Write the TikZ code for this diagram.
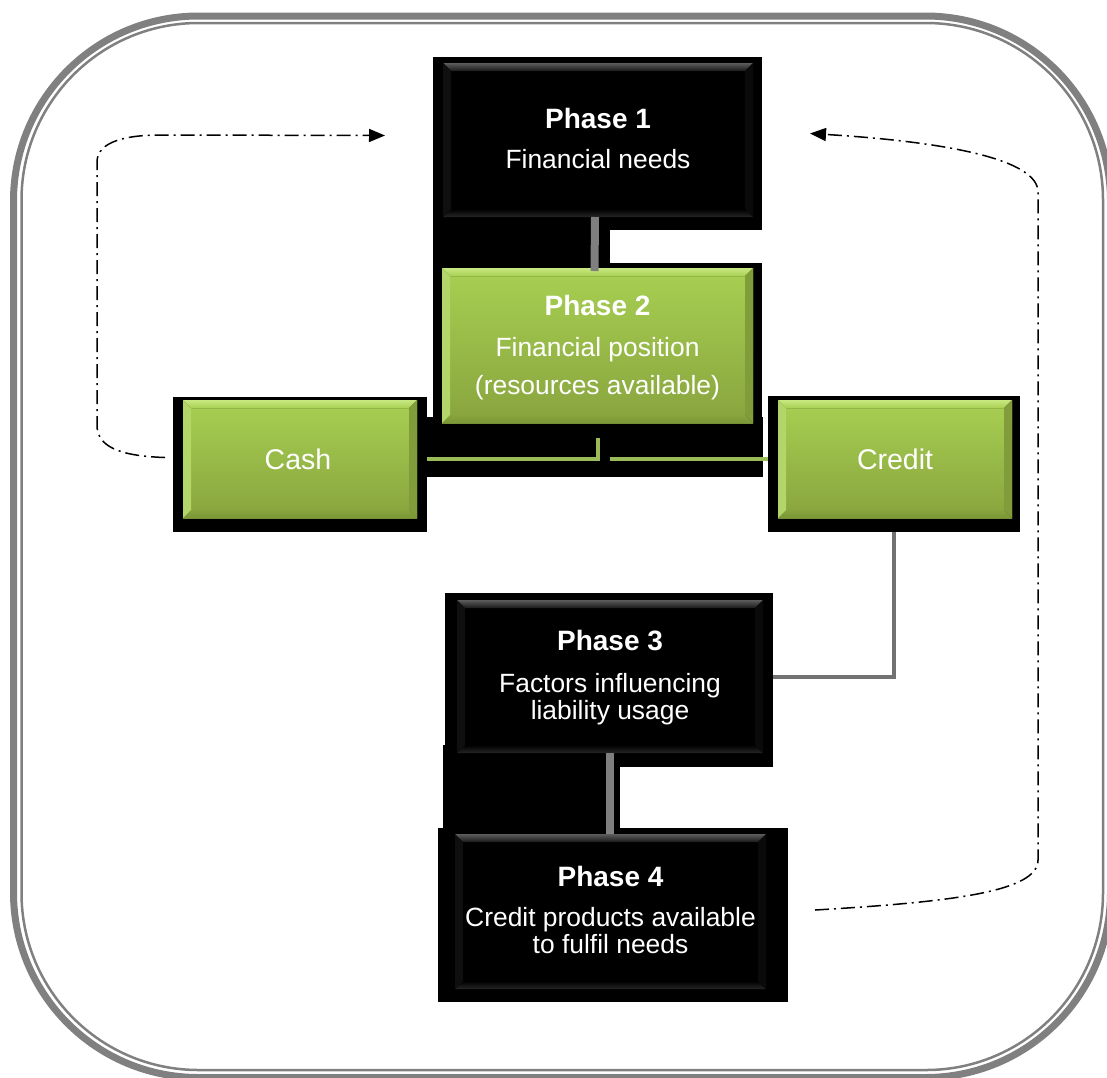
\documentclass[tikz,border=0pt]{standalone}
\usepackage{fontspec}
\setmainfont{Liberation Sans}
\usetikzlibrary{arrows.meta,calc}

\definecolor{framegray}{RGB}{128,128,128}
\definecolor{linkgray}{RGB}{127,127,127}
\definecolor{linkgreen}{RGB}{155,187,89}
\definecolor{greentop}{RGB}{168,208,82}
\definecolor{greenbot}{RGB}{136,164,62}
\definecolor{greenhi}{RGB}{200,232,130}
\definecolor{greenlo}{RGB}{122,150,54}
\definecolor{darkhi}{RGB}{92,92,92}
\definecolor{darklo}{RGB}{38,38,38}

% bevel strips on the four edges of a panel node
\newcommand\panelbevel[5]{%
  \fill[#2] (#1.north west) -- (#1.north east) -- ($(#1.north east)+(-8,8)$) -- ($(#1.north west)+(8,8)$) -- cycle;
  \fill[#3] (#1.south west) -- (#1.south east) -- ($(#1.south east)+(-8,-8)$) -- ($(#1.south west)+(8,-8)$) -- cycle;
  \fill[#4] (#1.north west) -- ($(#1.north west)+(8,8)$) -- ($(#1.south west)+(8,-8)$) -- (#1.south west) -- cycle;
  \fill[#5] (#1.north east) -- ($(#1.north east)+(-8,8)$) -- ($(#1.south east)+(-8,-8)$) -- (#1.south east) -- cycle;
}
\newcommand\darkbevel[1]{\panelbevel{#1}{top color=darkhi, bottom color=black!90!white}%
  {top color=black, bottom color=darklo}{black!94!white}{black!96!white}}
\newcommand\greenbevel[1]{\panelbevel{#1}{top color=greenhi, bottom color=greentop}%
  {top color=greenbot, bottom color=greenlo}{greentop!88!white}{greenbot!95!black}}

\tikzset{
  base/.style={fill=black, inner sep=0pt, outer sep=0pt},
  darkpanel/.style={fill=black, inner sep=0pt, outer sep=0pt},
  greenpanel/.style={top color=greentop, bottom color=greenbot, inner sep=0pt, outer sep=0pt},
  label/.style={text=white, align=center, inner sep=0pt},
  graylink/.style={draw=linkgray, line width=8pt},
  thinlink/.style={draw=linkgray!90!black, line width=4pt},
  greenlink/.style={draw=linkgreen, line width=4pt},
  loop/.style={draw=black, line width=1.5pt, dash pattern=on 14pt off 5pt on 2pt off 5pt,
    -{Triangle[length=16pt,width=13pt]}},
  outerframe/.style={draw=framegray, line width=7pt, rounded corners=185pt},
  innerframe/.style={draw=framegray, line width=2.5pt, rounded corners=177pt},
}
\newcommand\phasehead[1]{{\fontsize{28}{30}\selectfont\bfseries #1}}

\begin{document}
\begin{tikzpicture}[x=1pt,y=-1pt]
\useasboundingbox (0,0) rectangle (1107,1077);

% double frame
\draw[outerframe] (13.5,16) rectangle (1110.5,1077.5);
\draw[innerframe] (21.5,23) rectangle (1103,1070);

% black bases
\node[base, minimum width=329, minimum height=173] (p1base) at (597.5,143.5) {};
\fill (433,208) rectangle (610,265);
\node[base, minimum width=329, minimum height=162] (p2base) at (597.5,344) {};
\fill (427,417) rectangle (763,477);
\node[base, minimum width=254, minimum height=135] (cashbase) at (300,464.5) {};
\node[base, minimum width=252, minimum height=136] (creditbase) at (894,464) {};
\node[base, minimum width=328, minimum height=174] (p3base) at (609,680) {};
\fill (443,745) rectangle (620,828);
\node[base, minimum width=350, minimum height=174] (p4base) at (613,915) {};

% panels
\node[darkpanel, minimum width=310, minimum height=154] (p1) at (598,140) {};
\darkbevel{p1}
\node[label, font=\fontsize{26.4}{27}\selectfont] (p1t) at ($(p1)+(0,-2)$)
  {\phasehead{Phase 1}\\[13pt]Financial needs};

\node[greenpanel, minimum width=311, minimum height=155] (p2) at (597.5,345.5) {};
\greenbevel{p2}
\node[label, font=\fontsize{26.4}{38}\selectfont] (p2t) at ($(p2)+(0,2)$)
  {\phasehead{Phase 2}\\[3pt]Financial position\\(resources available)};

\node[greenpanel, minimum width=234, minimum height=118] (cash) at (300,459) {};
\greenbevel{cash}
\node[label, font=\fontsize{28.5}{30}\selectfont] (casht) at (298,459) {Cash};

\node[greenpanel, minimum width=234, minimum height=118] (credit) at (895,459) {};
\greenbevel{credit}
\node[label, font=\fontsize{28.5}{30}\selectfont] (creditt) at (895,459) {Credit};

\node[darkpanel, minimum width=306, minimum height=153] (p3) at (610,676.5) {};
\darkbevel{p3}
\node[label, font=\fontsize{26.4}{27}\selectfont] (p3t) at ($(p3)+(0,1)$)
  {\phasehead{Phase 3}\\[15pt]Factors influencing\\liability usage};

\node[darkpanel, minimum width=311, minimum height=155] (p4) at (610.5,911.5) {};
\darkbevel{p4}
\node[label, font=\fontsize{26.4}{27}\selectfont] (p4t) at ($(p4)+(0,-2)$)
  {\phasehead{Phase 4}\\[13pt]Credit products available\\to fulfil needs};

% connectors
\draw[graylink] ($(p1.south)+(-3,0)$) -- ($(p2.north)+(-3,3)$);
\coordinate (forkl) at (598,438);
\coordinate (forkr) at (610,458.5);
\draw[greenlink] (forkl) |- ($(cashbase.east)+(0,-6)$);
\draw[greenlink] (forkr) -- (creditbase.west |- forkr);
\draw[thinlink] (creditbase.south) |- ($(p3base.east)+(0,-3)$);
\draw[graylink] (p3.south) -- (p3.south |- p4.north);

% feedback loops
\coordinate (cashout) at ($(cashbase.west)+(-8,-7)$);
\coordinate (p1inL) at ($(p1base.west)+(-48,-8)$);
\coordinate (p4out) at ($(p4base.east)+(27,-5)$);
\coordinate (p1inR) at ($(p1base.east)+(48,-10)$);
\draw[loop] (cashout) .. controls (118,456) and (97,446) .. (97,425)
  -- (97,162) .. controls (97,141) and (128,135) .. (160,135) -- (p1inL);
\draw[loop] (p4out) .. controls (950,902) and (1038,892) .. (1038,860)
  -- (1038,192) .. controls (1038,160) and (950,142) .. (p1inR);
\end{tikzpicture}
\end{document}
